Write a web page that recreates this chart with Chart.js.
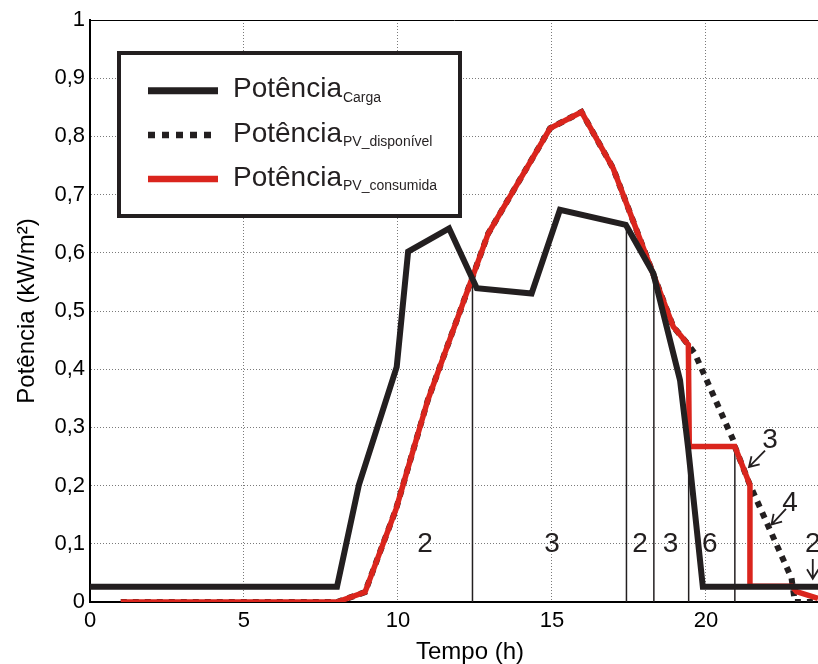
<!DOCTYPE html>
<html>
<head>
<meta charset="utf-8">
<script src="https://cdn.jsdelivr.net/npm/chart.js@4"></script>
<style>
  html, body { margin: 0; padding: 0; background: #fff; }
  #wrap { width: 818px; height: 664px; }
</style>
</head>
<body>
<div id="wrap"><canvas id="chart" width="818" height="664"></canvas></div>
<script>
// --- data ---
const cargaX = [0, 8.02, 8.73, 9.96, 10.33, 11.66, 12.56, 14.34, 15.26, 17.40, 18.29, 19.16, 19.42, 19.90, 23.64];
const cargaY = [0.026, 0.026, 0.201, 0.404, 0.602, 0.642, 0.539, 0.530, 0.674, 0.648, 0.565, 0.381, 0.266, 0.026, 0.026];

const consumidaX = [1.0, 8.02, 8.93, 9.94, 10.97, 12.93, 14.94, 15.96, 16.99, 18.28, 18.94, 19.43, 19.46, 20.94, 21.43, 21.43, 22.79, 22.94, 23.64];
const consumidaY = [0, 0, 0.017, 0.160, 0.347, 0.633, 0.814, 0.842, 0.745, 0.565, 0.473, 0.442, 0.267, 0.267, 0.201, 0.027, 0.027, 0.018, 0.006];

const disponivelX = [1.0, 8.02, 8.93, 9.94, 10.97, 12.93, 14.94, 15.96, 16.99, 18.28, 18.94, 19.43, 19.64, 20.89, 20.94, 21.43, 22.78, 22.89, 23.64];
const disponivelY = [0, 0, 0.017, 0.160, 0.347, 0.633, 0.814, 0.842, 0.745, 0.565, 0.473, 0.442, 0.427, 0.278, 0.267, 0.201, 0.041, 0, 0];

// thin vertical lines that split the day into zones
const zoneBoundX = [12.42, 17.42, 18.31, 19.44, 20.94];
const zoneBoundTop = [0.556, 0.648, 0.565, 0.442, 0.267];

// zone numbers
const zoneLabels = ['2', '3', '2', '3', '6'];
const zoneLabelX = [10.88, 15.0, 17.86, 18.85, 20.13];
const zoneLabelY = 0.1;

// numbers with arrows on the right
const noteLabels = ['3', '4', '2'];
const noteX = [22.08, 22.73, 23.47];
const noteY = [0.278, 0.170, 0.100];
const arrowFromX = [21.92, 22.60, 23.47];
const arrowFromY = [0.260, 0.160, 0.074];
const arrowToX = [21.40, 22.13, 23.47];
const arrowToY = [0.232, 0.133, 0.040];

const xTicks = [0, 5, 10, 15, 20];
const xTitle = 'Tempo (h)';
const legendMain = 'Potência';
const legendSub = ['Carga', 'PV_disponível', 'PV_consumida'];

const FONT = 'Arial, "Liberation Sans", sans-serif';
const BLACK = '#231f20';
const RED = '#da251d';

Chart.defaults.font.family = FONT;
Chart.defaults.color = '#000';

function pts(xs, ys) {
    return xs.map((x, i) => ({ x: x, y: ys[i] }));
}

const datasets = [
    {
        label: 'Carga', data: pts(cargaX, cargaY),
        borderColor: BLACK, borderWidth: 6, order: 1
    },
    {
        label: 'PV_consumida', data: pts(consumidaX, consumidaY),
        borderColor: RED, borderWidth: 5.5, order: 2
    },
    {
        label: 'PV_disponível', data: pts(disponivelX, disponivelY),
        borderColor: BLACK, borderWidth: 6, borderDash: [6, 6], order: 3
    }
];
zoneBoundX.forEach((bx, i) => {
    datasets.push({
        label: 'zona' + i, data: [{ x: bx, y: 0 }, { x: bx, y: zoneBoundTop[i] }],
        borderColor: BLACK, borderWidth: 1.5, order: 10
    });
});

function isTop(ctx) {
    return ctx.tick && Math.abs(ctx.tick.value - 1) < 1e-9;
}

// labels, arrows, x title and the boxed legend
const annotate = {
    id: 'annotate',
    afterDatasetsDraw(chart) {
        const { ctx, scales: { x, y } } = chart;
        ctx.save();
        ctx.fillStyle = BLACK;
        ctx.font = '28px ' + FONT;
        ctx.textAlign = 'center';
        ctx.textBaseline = 'middle';
        zoneLabels.forEach((t, i) => {
            ctx.fillText(t, x.getPixelForValue(zoneLabelX[i]), y.getPixelForValue(zoneLabelY));
        });
        ctx.strokeStyle = BLACK;
        ctx.lineWidth = 1.8;
        noteLabels.forEach((t, i) => {
            ctx.fillText(t, x.getPixelForValue(noteX[i]), y.getPixelForValue(noteY[i]));
            const x1 = x.getPixelForValue(arrowFromX[i]), y1 = y.getPixelForValue(arrowFromY[i]);
            const x2 = x.getPixelForValue(arrowToX[i]), y2 = y.getPixelForValue(arrowToY[i]);
            const a = Math.atan2(y2 - y1, x2 - x1);
            ctx.beginPath();
            ctx.moveTo(x1, y1);
            ctx.lineTo(x2, y2);
            ctx.moveTo(x2 - 11 * Math.cos(a - 0.55), y2 - 11 * Math.sin(a - 0.55));
            ctx.lineTo(x2, y2);
            ctx.lineTo(x2 - 11 * Math.cos(a + 0.55), y2 - 11 * Math.sin(a + 0.55));
            ctx.stroke();
        });
        // x axis title, a little right of centre as in the figure
        ctx.font = '24px ' + FONT;
        ctx.fillStyle = '#000';
        ctx.fillText(xTitle, 470, 652);
        ctx.restore();
    },
    afterDraw(chart) {
        const ctx = chart.ctx;
        ctx.save();
        ctx.fillStyle = '#fff';
        ctx.fillRect(119, 53, 341, 163);
        ctx.lineWidth = 4;
        ctx.strokeStyle = BLACK;
        ctx.strokeRect(119, 53, 341, 163);
        const rowY = [90.7, 135, 179];
        const styles = [
            { color: BLACK, width: 7, dash: [] },
            { color: BLACK, width: 6.5, dash: [7, 7] },
            { color: RED, width: 6.5, dash: [] }
        ];
        legendSub.forEach((sub, i) => {
            const s = styles[i];
            ctx.beginPath();
            ctx.setLineDash(s.dash);
            ctx.strokeStyle = s.color;
            ctx.lineWidth = s.width;
            ctx.moveTo(148, rowY[i]);
            ctx.lineTo(218, rowY[i]);
            ctx.stroke();
            ctx.setLineDash([]);
            ctx.fillStyle = BLACK;
            ctx.textBaseline = 'alphabetic';
            ctx.textAlign = 'left';
            ctx.font = '28px ' + FONT;
            ctx.fillText(legendMain, 233, rowY[i] + 6.6);
            const w = ctx.measureText(legendMain).width;
            ctx.font = '14px ' + FONT;
            ctx.fillText(sub, 233 + w + 1, rowY[i] + 11);
        });
        ctx.restore();
    }
};

new Chart(document.getElementById('chart'), {
    type: 'line',
    data: { datasets: datasets },
    options: {
        responsive: false,
        animation: false,
        layout: { padding: { top: 20, left: 0, right: 0, bottom: 0 } },
        elements: {
            point: { radius: 0 },
            line: { tension: 0, borderJoinStyle: 'miter' }
        },
        plugins: { legend: { display: false }, tooltip: { enabled: false } },
        scales: {
            x: {
                type: 'linear', min: 0, max: 23.64,
                afterBuildTicks: (s) => { s.ticks = xTicks.map(v => ({ value: v })); },
                afterFit: (s) => { s.height = 62; },
                ticks: { font: { size: 22 }, padding: 6, maxRotation: 0, color: '#000' },
                grid: { color: '#7a7a7a', lineWidth: 1, drawTicks: false },
                border: { color: '#000', width: 2, dash: [1, 2] },
                title: { display: false }
            },
            y: {
                type: 'linear', min: 0, max: 1,
                afterFit: (s) => { s.width = 90; },
                ticks: {
                    stepSize: 0.1, font: { size: 22 }, padding: 5, color: '#000',
                    callback: (v) => {
                        const r = Math.round(v * 10) / 10;
                        if (r === 0) return '0';
                        if (r === 1) return '1';
                        return r.toFixed(1).replace('.', ',');
                    }
                },
                grid: {
                    color: (ctx) => isTop(ctx) ? '#000' : '#7a7a7a',
                    lineWidth: 1, drawTicks: false
                },
                border: {
                    color: '#000', width: 2,
                    dash: (ctx) => isTop(ctx) ? [] : [1, 2]
                },
                title: { display: true, text: 'Potência (kW/m²)', font: { size: 24, lineHeight: 1 }, padding: { top: 15 }, color: '#000' }
            }
        }
    },
    plugins: [annotate]
});
</script>
</body>
</html>
